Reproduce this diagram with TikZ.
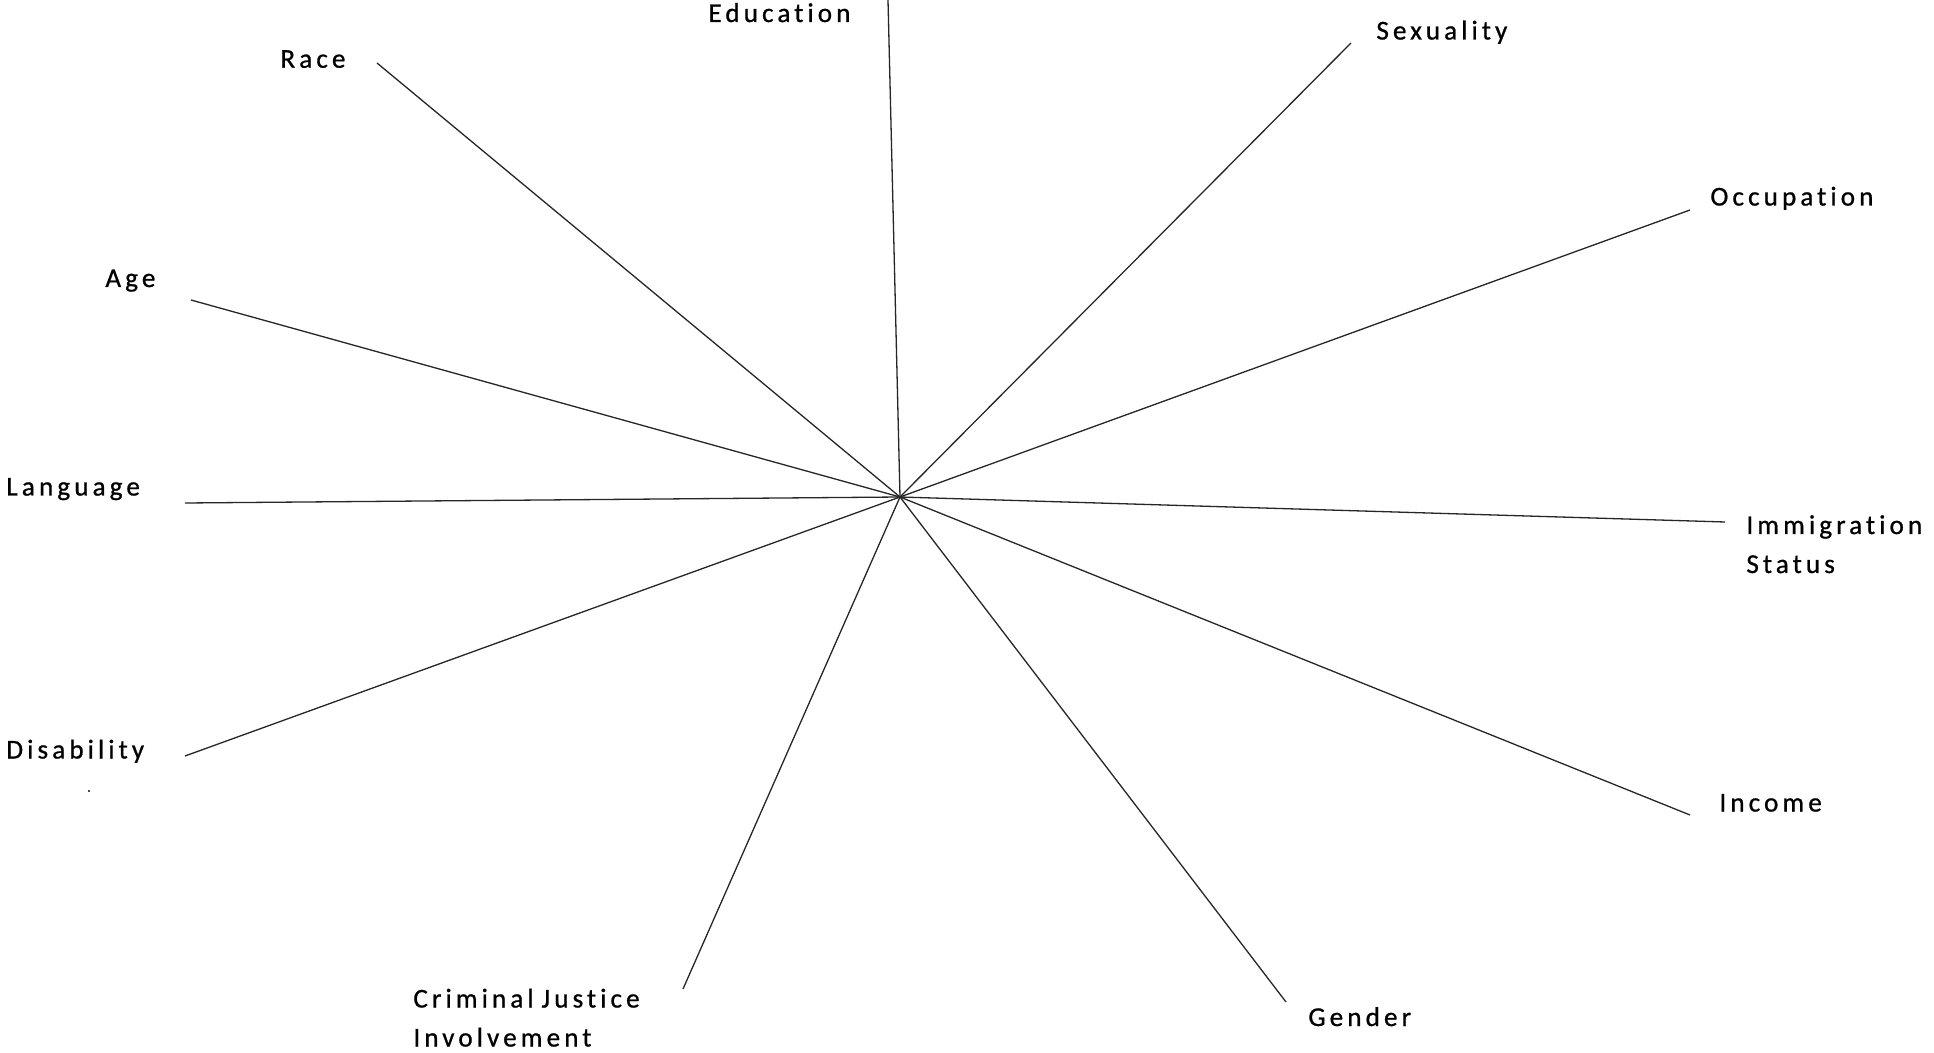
\documentclass[tikz,border=0pt]{standalone}
\usepackage{fontspec}
\setmainfont{Carlito}[LetterSpace=15,Ligatures=NoCommon,FakeBold=0.8]
\begin{document}
\begin{tikzpicture}[x=0.5pt,y=-0.5pt,
  spoke/.style={draw=black!85,line width=0.65pt},
  lbl/.style={anchor=base west,inner sep=0pt,font=\fontsize{13.6pt}{19.5pt}\selectfont,align=left,text=black}]
\useasboundingbox[fill=white] (0,0) rectangle (1934,1053);
\coordinate (c) at (900,497);
% spoke ends
\coordinate (eEdu) at (888,0);
\coordinate (eRace) at (377,63);
\coordinate (eAge) at (191,300);
\coordinate (eLang) at (185,503);
\coordinate (eDis) at (185,756);
\coordinate (eCJI) at (683,989);
\coordinate (eGen) at (1286,1002);
\coordinate (eInc) at (1690,815);
\coordinate (eImm) at (1725,522);
\coordinate (eOcc) at (1690,210);
\coordinate (eSex) at (1351,43);
% labels (multi-line labels are anchored at the baseline of their last line)
\node[lbl] (lEdu) at (708,22) {Education};
\node[lbl] (lRace) at (280,67.7) {Race};
\node[lbl] (lAge) at (105,287) {Age};
\node[lbl] (lLang) at (6,495.5) {Language};
\node[lbl] (lDis) at (6,758.5) {Disability};
\node[lbl] (lCJI) at (413,1046.5) {Criminal\kern-1.2pt{} Justice\\Involvement};
\node[lbl] (lGen) at (1308,1026) {Gender};
\node[lbl] (lInc) at (1719,811.5) {Income};
\node[lbl] (lImm) at (1746,573) {Immigration\\Status};
\node[lbl] (lOcc) at (1710,205.5) {Occupation};
\node[lbl] (lSex) at (1376,39.5) {Sexuality};
\node[inner sep=0pt,minimum size=1.2pt,fill=black!70] (dot) at (89,791) {};
% spokes
\foreach \e in {eEdu,eRace,eAge,eLang,eDis,eCJI,eGen,eInc,eImm,eOcc,eSex}
  \draw[spoke] (c) -- (\e);
\end{tikzpicture}
\end{document}
